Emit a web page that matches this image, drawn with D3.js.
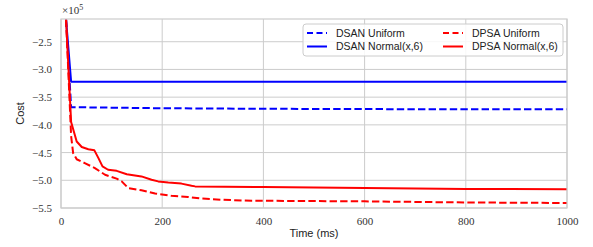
<!DOCTYPE html>
<html><head><meta charset="utf-8">
<script src="https://cdn.jsdelivr.net/npm/d3@7"></script>
<style>body{margin:0;background:#fff}svg{display:block}</style>
</head><body><svg id="c" width="593" height="247"></svg>
<script>
const xTicks=[0,200,400,600,800,1000];
const yTicks=[-2.5,-3.0,-3.5,-4.0,-4.5,-5.0,-5.5];
const seriesNames=["DSAN Uniform","DSAN Normal(x,6)","DPSA Uniform","DPSA Normal(x,6)"];
const dsanUniformT=[10,20,100,200,400,600,800,1000];
const dsanUniformV=[-2.1,-3.68,-3.69,-3.70,-3.71,-3.715,-3.72,-3.72];
const dsanNormalT=[10,20,100,400,1000];
const dsanNormalV=[-2.1,-3.22,-3.22,-3.22,-3.22];
const dpsaUniformT=[10,20,24,31,47,67,87,110,120,133,159,186,218,251,278,317,377,400,600,800,1000];
const dpsaUniformV=[-2.1,-4.2,-4.51,-4.62,-4.69,-4.78,-4.90,-4.97,-5.02,-5.14,-5.18,-5.24,-5.28,-5.30,-5.33,-5.35,-5.37,-5.37,-5.38,-5.40,-5.41];
const dpsaNormalT=[10,20,31,41,54,66,74,82,93,110,130,159,179,192,212,238,258,265,383,400,600,800,1000];
const dpsaNormalV=[-2.1,-3.95,-4.30,-4.40,-4.44,-4.46,-4.60,-4.75,-4.81,-4.83,-4.89,-4.93,-4.99,-5.02,-5.04,-5.06,-5.10,-5.11,-5.12,-5.12,-5.14,-5.155,-5.16];

const svg=d3.select("#c");
const L=61,R=567,T=19,B=208;
const x=d3.scaleLinear().domain([0,1000]).range([L,R]);
const y=d3.scaleLinear().domain([-5.5,-2.09]).range([B,T]);
const grid="#cccccc";
// grid
svg.append("g").selectAll("line").data(xTicks).join("line")
 .attr("x1",d=>x(d)).attr("x2",d=>x(d)).attr("y1",T).attr("y2",B)
 .attr("stroke",grid).attr("stroke-width",1);
svg.append("g").selectAll("line").data(yTicks).join("line")
 .attr("y1",d=>y(d)).attr("y2",d=>y(d)).attr("x1",L).attr("x2",R)
 .attr("stroke",grid).attr("stroke-width",1);
// axes tick labels
const fmt=d=>(d<0?"\u2212":"")+Math.abs(d).toFixed(1);
const xa=svg.append("g").attr("transform",`translate(0,${B})`)
 .call(d3.axisBottom(x).tickValues(xTicks).tickSize(0).tickPadding(9).tickFormat(d3.format("d")));
const ya=svg.append("g").attr("transform",`translate(${L},0)`)
 .call(d3.axisLeft(y).tickValues(yTicks).tickSize(0).tickPadding(9).tickFormat(fmt));
[xa,ya].forEach(a=>{a.select(".domain").remove();
 a.selectAll("text").attr("font-family","'Liberation Serif','DejaVu Serif',serif").attr("font-size",11).attr("fill","#333");});
// lines
const clip=svg.append("clipPath").attr("id","cp").append("rect").attr("x",L).attr("y",T).attr("width",R-L).attr("height",B-T);
const line=d3.line().x(d=>x(d[0])).y(d=>y(d[1]));
const series=[
 {t:dsanUniformT,v:dsanUniformV,c:"#0000ff",dash:"7.4,3.2"},
 {t:dsanNormalT,v:dsanNormalV,c:"#0000ff",dash:null},
 {t:dpsaUniformT,v:dpsaUniformV,c:"#ff0000",dash:"7.4,3.2"},
 {t:dpsaNormalT,v:dpsaNormalV,c:"#ff0000",dash:null}];
const g=svg.append("g").attr("clip-path","url(#cp)");
series.forEach(s=>{
 g.append("path").datum(s.t.map((t,i)=>[t,s.v[i]])).attr("d",line)
  .attr("fill","none").attr("stroke",s.c).attr("stroke-width",2)
  .attr("stroke-dasharray",s.dash).attr("stroke-linejoin","round");
});
// frame
svg.append("rect").attr("x",L).attr("y",T).attr("width",R-L).attr("height",B-T)
 .attr("fill","none").attr("stroke",grid).attr("stroke-width",1.2);
// exponent
const ex=svg.append("text").attr("x",62).attr("y",14).attr("font-family","'Liberation Serif','DejaVu Serif',serif")
 .attr("font-size",11).attr("fill","#333");
ex.append("tspan").text("\u00d710");
ex.append("tspan").attr("dy",-4).attr("font-size",8).text("5");
// labels
const sans="'Liberation Sans','DejaVu Sans',sans-serif";
svg.append("text").attr("x",x(500)).attr("y",237).attr("text-anchor","middle")
 .attr("font-family",sans).attr("font-size",11).attr("fill","#222").text("Time (ms)");
svg.append("text").attr("transform",`translate(24,${(T+B)/2}) rotate(-90)`).attr("text-anchor","middle")
 .attr("font-family",sans).attr("font-size",11).attr("fill","#222").text("Cost");
// legend
const lg=svg.append("g");
lg.append("rect").attr("x",303).attr("y",24).attr("width",260).attr("height",32).attr("rx",3)
 .attr("fill","#fff").attr("fill-opacity",0.85).attr("stroke","#cccccc");
const pos=[[307,33],[307,46.5],[443,33],[443,46.5]];
series.forEach((s,i)=>{
 const [px,py]=pos[i];
 lg.append("line").attr("x1",px).attr("x2",px+20).attr("y1",py).attr("y2",py)
  .attr("stroke",s.c).attr("stroke-width",2).attr("stroke-dasharray",s.dash?"6,3.5":null);
 lg.append("text").attr("x",px+29).attr("y",py+3.8).attr("font-family",sans).attr("font-size",10.5)
  .attr("fill","#222").text(seriesNames[i]);
});
</script></body></html>
